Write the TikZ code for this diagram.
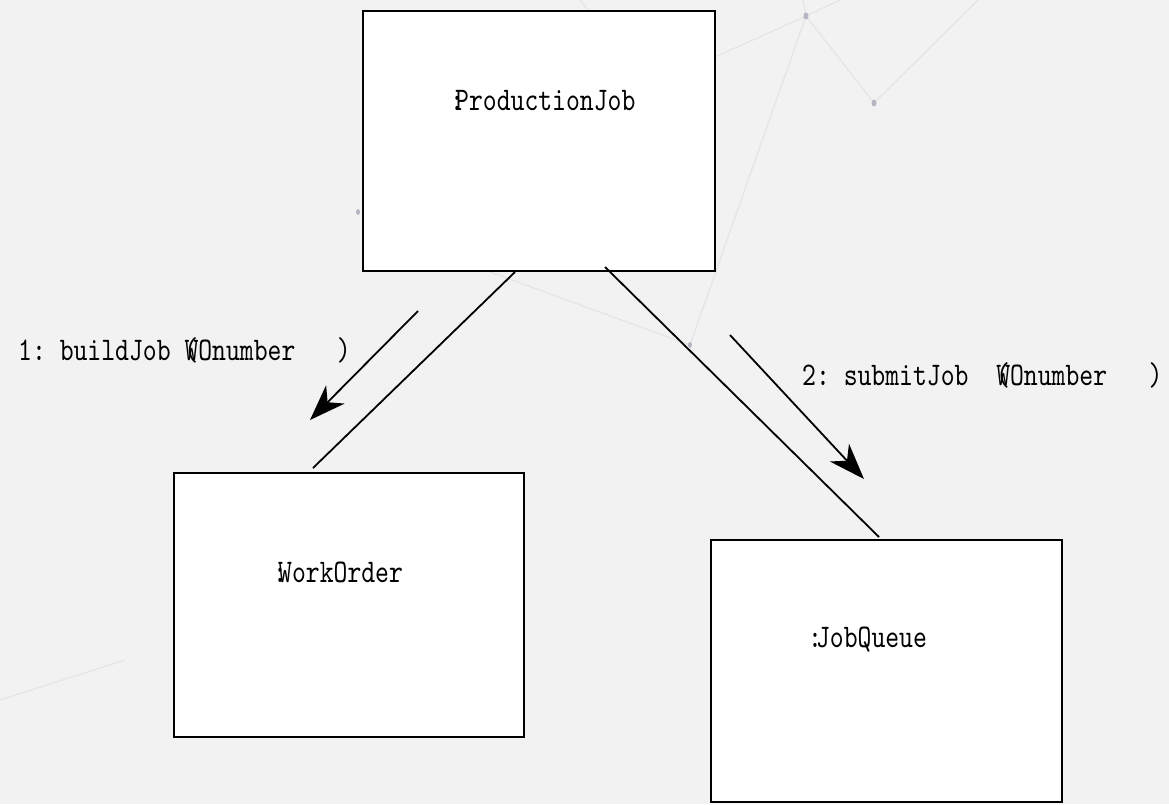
\documentclass[tikz,border=0pt]{standalone}
\usepackage{fontspec}
\newfontfamily\lmt[FakeStretch=0.8]{lmmono10-regular.otf}
\usetikzlibrary{arrows.meta}
\definecolor{bg}{HTML}{F2F2F2}
\definecolor{faint}{HTML}{E4E4E9}
\definecolor{dotc}{HTML}{B4B6C2}
\newcommand{\ovl}[2]{\rlap{#1}#2}
\tikzset{
  obj/.style={draw=black, fill=white, line width=2pt},
  lbl/.style={font=\fontsize{33}{36}\selectfont\lmt, inner sep=0pt, anchor=base west},
  link/.style={line width=1.8pt},
  msg/.style={line width=1.8pt, -{Stealth[length=36pt, width=26pt, inset=11pt]}},
  bgline/.style={faint, line width=1.2pt}
}
\begin{document}
\begin{tikzpicture}[x=1pt,y=-1pt]
\fill[bg] (0,0) rectangle (1169,804);
\useasboundingbox (0,0) rectangle (1169,804);
% faint background network
\draw[bgline] (0,700) -- (125,660);
\draw[bgline] (806,16) -- (874,103);
\draw[bgline] (806,16) -- (715,57);
\draw[bgline] (806,16) -- (840,0);
\draw[bgline] (806,16) -- (803,0);
\draw[bgline] (806,16) -- (690,345);
\draw[bgline] (874,103) -- (978,0);
\draw[bgline] (690,345) -- (430,250);
\draw[bgline] (580,0) -- (600,25);
\fill[dotc] (806,16) ellipse (2.5pt and 3.5pt);
\fill[dotc] (874,103) ellipse (2.5pt and 3.5pt);
\fill[dotc] (358,212) ellipse (2pt and 3pt);
\fill[dotc] (690,345) ellipse (2pt and 3pt);
% objects
\draw[obj] (363,11) rectangle (715,271);
\draw[obj] (174,473) rectangle (524,737);
\draw[obj] (711,540) rectangle (1062,802);
\node[lbl] (pj) at (455,110) {\ovl{\kern-5pt:}{ProductionJob}};
\node[lbl] (wo) at (278,582) {\ovl{\kern-5pt:}{WorkOrder}};
\node[lbl] (jq) at (808,647) {:\kern-6pt JobQueue};
\coordinate (pjA) at (515,272);
\coordinate (woT) at (313,468);
\coordinate (pjB) at (605,267);
\coordinate (jqT) at (879,537);
\draw[link] (pjA) -- (woT);
\draw[link] (pjB) -- (jqT);
\coordinate (m1s) at (418,311);
\coordinate (m1e) at (310,420);
\coordinate (m2s) at (730,335);
\coordinate (m2e) at (864,479);
\draw[msg] (m1s) -- (m1e);
\draw[msg] (m2s) -- (m2e);
\node[lbl] (l1) at (18,360) {1:\ buildJob\ \ovl{(}{WOnumber}\ \ \ )};
\node[lbl] (l2) at (802,385) {2:\ submitJob\ \ \ovl{(}{WOnumber}\ \ \ )};
\end{tikzpicture}
\end{document}
